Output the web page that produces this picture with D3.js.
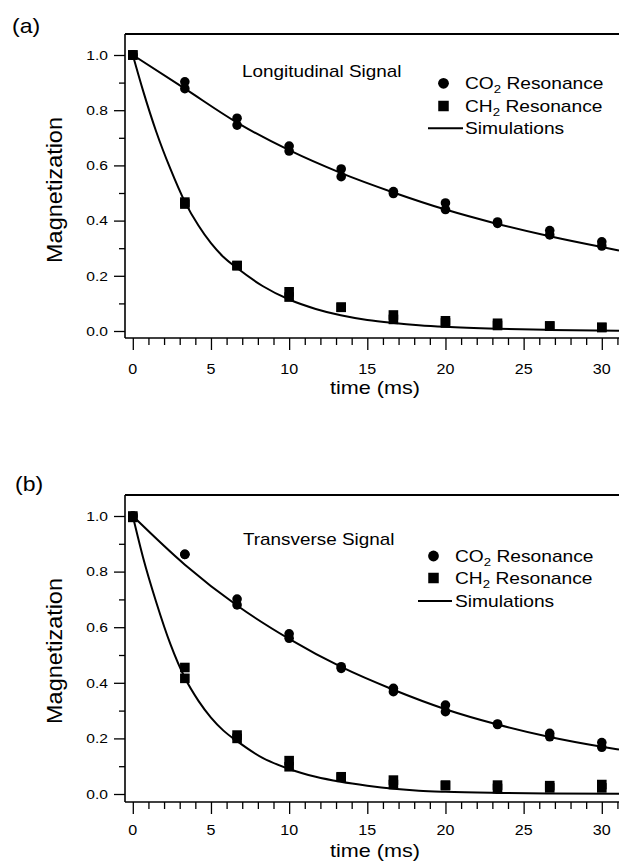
<!DOCTYPE html>
<html>
<head>
<meta charset="utf-8">
<script src="https://cdn.jsdelivr.net/npm/d3@7/dist/d3.min.js"></script>
<style>
body { margin:0; background:#fff; }
svg { display:block; font-family:"Liberation Sans", Arial, Helvetica, sans-serif; }
</style>
</head>
<body>
<div id="chart"></div>
<script>

// sampling times (ms), same for both panels
var times = [0, 3.33, 6.67, 10, 13.33, 16.67, 20, 23.33, 26.67, 30];

// (a) longitudinal signal, two repeat measurements each
var longCO2Run1 = [1.0, 0.903, 0.771, 0.670, 0.587, 0.505, 0.464, 0.395, 0.364, 0.323];
var longCO2Run2 = [1.0, 0.878, 0.746, 0.652, 0.559, 0.498, 0.440, 0.390, 0.348, 0.308];
var longCH2Run1 = [1.0, 0.467, 0.237, 0.142, 0.086, 0.058, 0.037, 0.028, 0.018, 0.013];
var longCH2Run2 = [1.0, 0.460, 0.237, 0.123, 0.086, 0.042, 0.029, 0.020, 0.018, 0.013];

// (b) transverse signal
var transCO2Run1 = [1.0, 0.862, 0.701, 0.576, 0.458, 0.380, 0.320, 0.252, 0.218, 0.185];
var transCO2Run2 = [1.0, 0.862, 0.680, 0.560, 0.452, 0.368, 0.296, 0.250, 0.206, 0.168];
var transCH2Run1 = [1.0, 0.455, 0.212, 0.120, 0.062, 0.050, 0.032, 0.032, 0.030, 0.034];
var transCH2Run2 = [0.995, 0.416, 0.200, 0.098, 0.060, 0.034, 0.030, 0.020, 0.022, 0.022];

// simulation curves, [time, magnetization]
var longSimCO2 = [[0,1.0],[3.33,0.878],[6.67,0.755],[10,0.655],[13.33,0.572],[16.67,0.502],
	[20,0.440],[23.33,0.388],[26.67,0.343],[30,0.304],[31.1,0.292]];
var longSimCH2 = [[0,1.0],[0.66,0.870],[1.5,0.722],[2.4,0.588],[3.33,0.468],[4.2,0.382],[5,0.318],
	[5.8,0.268],[6.67,0.228],[8.3,0.163],[10,0.114],[11.7,0.080],[13.3,0.057],[15,0.040],[16.7,0.029],
	[18.3,0.021],[20,0.015],[23.3,0.008],[26.7,0.004],[31.1,0.001]];
var transSimCO2 = [[0,1.0],[3.33,0.825],[6.67,0.678],[10,0.558],[13.33,0.457],[16.67,0.375],
	[20,0.305],[23.33,0.250],[26.67,0.205],[30,0.170],[31.1,0.160]];
var transSimCH2 = [[0,1.0],[0.66,0.850],[1.5,0.690],[2.4,0.540],[3.33,0.418],[4.2,0.335],[5,0.275],
	[5.8,0.228],[6.67,0.190],[8.3,0.130],[10,0.090],[11.7,0.062],[13.3,0.044],[15,0.030],[16.7,0.019],
	[18.3,0.012],[20,0.008],[23.3,0.004],[26.7,0.002],[31.1,0.001]];

var xMajor = d3.range(0, 31, 5),
	xMinor = d3.range(0, 32, 1).filter(function(v){ return v % 5 !== 0; }),
	yMajor = [0, 0.2, 0.4, 0.6, 0.8, 1.0],
	yMinor = [0.1, 0.3, 0.5, 0.7, 0.9];

var panels = [
	{ tag:'(a)', tagX:12, tagY:33, title:'Longitudinal Signal', titleX:242, titleY:76.5,
	  top:34, bottom:338, y0:331, y1:55, xLabY:374, timeY:394, magY:190,
	  co2:[longCO2Run1, longCO2Run2], ch2:[longCH2Run1, longCH2Run2], sim:[longSimCO2, longSimCH2],
	  leg:{ mx:443.5, tx:465, rows:[83.3, 106, 128.3], line:[428, 463] } },
	{ tag:'(b)', tagX:15, tagY:491, title:'Transverse Signal', titleX:243, titleY:545,
	  top:495, bottom:802, y0:794, y1:516, xLabY:835, timeY:857, magY:651,
	  co2:[transCO2Run1, transCO2Run2], ch2:[transCH2Run1, transCH2Run2], sim:[transSimCO2, transSimCH2],
	  leg:{ mx:433.5, tx:455, rows:[556, 578, 601], line:[418, 452] } }
];

var W = 619, H = 862, left = 125, SX = 1.2;

var svg = d3.select('#chart').append('svg')
	.attr('width', W)
	.attr('height', H);

var x = d3.scaleLinear().domain([0, 30]).range([132.8, 601.8]);

// text in the print is wider than Arial, so stretch it horizontally
function label(g, px, py, str, size, anchor, sx) {
	return g.append('text')
		.attr('transform', 'translate(' + px + ',' + py + ') scale(' + (sx || SX) + ',1)')
		.attr('text-anchor', anchor || 'start')
		.attr('font-size', size)
		.attr('fill', '#000')
		.text(str);
}

function subLabel(g, px, py, a, sub, b) {
	var t = label(g, px, py, a, 16);
	t.append('tspan').attr('font-size', 11).attr('dy', 4).text(sub);
	t.append('tspan').attr('dy', -4).text(b);
	return t;
}

function square(g, cx, cy, s) {
	g.append('rect')
		.attr('x', cx - s/2).attr('y', cy - s/2)
		.attr('width', s).attr('height', s)
		.attr('fill', '#000');
}

panels.forEach(function(p, pi) {
	var g = svg.append('g');
	var y = d3.scaleLinear().domain([0, 1]).range([p.y0, p.y1]);

	// frame: left, top, bottom (right edge is cut off)
	g.append('line').attr('x1', left).attr('x2', left).attr('y1', p.top).attr('y2', p.bottom)
		.attr('stroke', '#000').attr('stroke-width', 1.6);
	g.append('line').attr('x1', left).attr('x2', W).attr('y1', p.top).attr('y2', p.top)
		.attr('stroke', '#000').attr('stroke-width', 2);
	g.append('line').attr('x1', left).attr('x2', W).attr('y1', p.bottom).attr('y2', p.bottom)
		.attr('stroke', '#000').attr('stroke-width', 1.6);

	// ticks
	function ticks(axis) {
		return function(sel) {
			sel.call(axis.tickFormat(''));
			sel.select('.domain').remove();
			sel.selectAll('line').attr('stroke', '#000').attr('stroke-width', 1.3);
		};
	}
	g.append('g').attr('transform', 'translate(0,' + p.bottom + ')')
		.call(ticks(d3.axisBottom(x).tickValues(xMajor).tickSize(12)));
	g.append('g').attr('transform', 'translate(0,' + p.bottom + ')')
		.call(ticks(d3.axisBottom(x).tickValues(xMinor).tickSize(7)));
	g.append('g').attr('transform', 'translate(' + left + ',0)')
		.call(ticks(d3.axisLeft(y).tickValues(yMajor).tickSize(11)));
	g.append('g').attr('transform', 'translate(' + left + ',0)')
		.call(ticks(d3.axisLeft(y).tickValues(yMinor).tickSize(6)));

	// tick labels
	yMajor.forEach(function(v) {
		label(g, 108, y(v) + 4.7, d3.format('.1f')(v), 13, 'end');
	});
	xMajor.forEach(function(v) {
		label(g, x(v), p.xLabY, v, 14, 'middle', 1.15);
	});

	// axis titles
	label(g, 375, p.timeY, 'time (ms)', 18, 'middle');
	g.append('text')
		.attr('transform', 'translate(62,' + p.magY + ') rotate(-90) scale(1.065,1)')
		.attr('text-anchor', 'middle')
		.attr('font-size', 22)
		.text('Magnetization');

	label(g, p.tagX, p.tagY, p.tag, 20, 'start', 1.15);
	label(g, p.titleX, p.titleY, p.title, 16, 'start', 1.18);

	// simulation curves
	var clipId = 'clip' + pi;
	svg.append('clipPath').attr('id', clipId)
		.append('rect').attr('x', left).attr('y', p.top).attr('width', W - left).attr('height', p.bottom - p.top);

	var line = d3.line()
		.x(function(d){ return x(d[0]); })
		.y(function(d){ return y(d[1]); })
		.curve(d3.curveMonotoneX);

	g.append('g').attr('clip-path', 'url(#' + clipId + ')')
		.selectAll('path')
		.data(p.sim)
		.enter().append('path')
			.attr('d', line)
			.attr('fill', 'none')
			.attr('stroke', '#000')
			.attr('stroke-width', 2);

	// data points: circles first, squares on top
	p.co2.forEach(function(run) {
		g.append('g').selectAll('circle')
			.data(run)
			.enter().append('circle')
				.attr('cx', function(d, i){ return x(times[i]); })
				.attr('cy', function(d){ return y(d); })
				.attr('r', 4.8)
				.attr('fill', '#000');
	});
	p.ch2.forEach(function(run) {
		run.forEach(function(d, i) {
			square(g, x(times[i]), y(d), 9.6);
		});
	});

	// legend
	var L = p.leg;
	g.append('circle').attr('cx', L.mx).attr('cy', L.rows[0]).attr('r', 5.4).attr('fill', '#000');
	square(g, L.mx, L.rows[1], 10.5);
	g.append('line').attr('x1', L.line[0]).attr('x2', L.line[1])
		.attr('y1', L.rows[2]).attr('y2', L.rows[2])
		.attr('stroke', '#000').attr('stroke-width', 2);
	subLabel(g, L.tx, L.rows[0] + 5.5, 'CO', '2', ' Resonance');
	subLabel(g, L.tx, L.rows[1] + 5.5, 'CH', '2', ' Resonance');
	label(g, L.tx, L.rows[2] + 5.7, 'Simulations', 16);
});

</script>
</body>
</html>
